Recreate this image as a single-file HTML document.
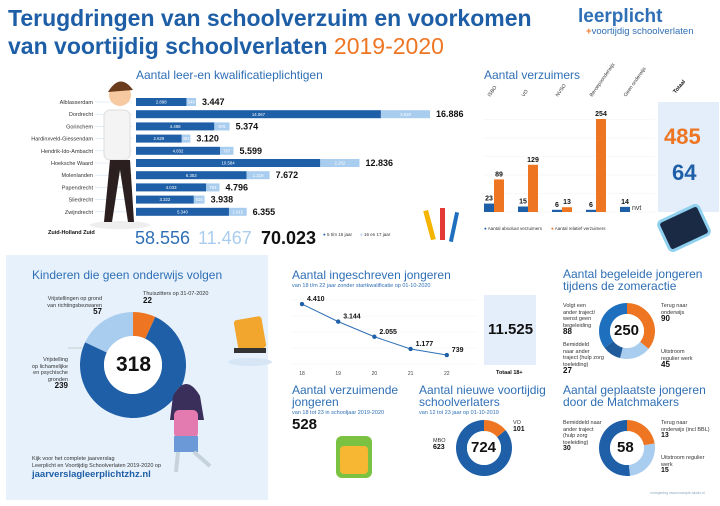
<!DOCTYPE html>
<html><head><meta charset="utf-8">
<style>
body{margin:0;width:720px;height:506px;background:#fff;font-family:"Liberation Sans",sans-serif;position:relative;overflow:hidden}
.a{position:absolute;white-space:nowrap}
.h{color:#2f6fb5;font-size:12px}
.sub{color:#2f6fb5;font-size:5.5px}
.lbl{font-size:5.5px;color:#333;line-height:6.5px}
.b{font-weight:bold;color:#111}
svg{position:absolute;left:0;top:0}
</style></head><body>
<div class="a" style="left:8px;top:4px;font-size:23px;font-weight:bold;color:#1d5ea6;line-height:28px">Terugdringen van schoolverzuim en voorkomen<br>van voortijdig schoolverlaten <span style="color:#ee7623;font-weight:normal">2019-2020</span></div>
<div class="a" style="left:578px;top:6px;font-size:19px;font-weight:bold;color:#2f6fb5">leerplicht</div>
<div class="a" style="left:586px;top:26px;font-size:9.5px;color:#2f6fb5"><span style="color:#ee7623;font-weight:bold">+</span>voortijdig schoolverlaten</div>

<div class="a" style="left:6px;top:255px;width:262px;height:245px;background:#e6f1fb"></div>
<div class="a" style="left:658px;top:102px;width:61px;height:110px;background:#e3eefa"></div>
<div class="a" style="left:484px;top:295px;width:52px;height:70px;background:#e3eefa"></div>

<svg id="s" width="720" height="506"></svg>

<div class="a h" style="left:136px;top:68px">Aantal leer-en kwalificatieplichtigen</div>
<div class="a lbl b" style="left:48px;top:230px">Zuid-Holland Zuid</div>
<div class="a" style="left:135px;top:228px;font-size:18px;color:#2f6fb5">58.556</div>
<div class="a" style="left:198px;top:228px;font-size:18px;color:#a9cdee">11.467</div>
<div class="a" style="left:261px;top:228px;font-size:18px;font-weight:bold;color:#111">70.023</div>
<div class="a lbl" style="left:323px;top:232px;font-size:4.5px"><span style="color:#1f5fa8">●</span> 5 t/m 15 jaar</div>
<div class="a lbl" style="left:360px;top:232px;font-size:4.5px"><span style="color:#a9cdee">●</span> 16 en 17 jaar</div>

<div class="a h" style="left:484px;top:68px">Aantal verzuimers</div>
<div class="a lbl" style="left:484px;top:226px;font-size:4.5px"><span style="color:#1f5fa8">●</span> Aantal absoluut verzuimers</div>
<div class="a lbl" style="left:551px;top:226px;font-size:4.5px"><span style="color:#ee7623">●</span> Aantal relatief verzuimers</div>
<div class="a" style="left:664px;top:124px;font-size:22px;font-weight:bold;color:#ee7623">485</div>
<div class="a" style="left:672px;top:160px;font-size:22px;font-weight:bold;color:#1f5fa8">64</div>
<div class="a lbl b" style="left:672px;top:84px;transform:rotate(-50deg)">Totaal</div>

<div class="a h" style="left:32px;top:268px">Kinderen die geen onderwijs volgen</div>
<div class="a lbl" style="left:143px;top:291px">Thuiszitters op 31-07-2020<br><b class="b" style="font-size:8px">22</b></div>
<div class="a lbl" style="left:30px;top:296px;text-align:right;width:72px">Vrijstellingen op grond<br>van richtingsbezwaren<br><b class="b" style="font-size:8px">57</b></div>
<div class="a lbl" style="left:18px;top:357px;text-align:right;width:50px">Vrijstelling<br>op lichamelijke<br>en psychische<br>gronden<br><b class="b" style="font-size:8px">239</b></div>
<div class="a" style="left:116px;top:353px;font-size:21px;font-weight:bold;color:#111">318</div>
<div class="a lbl" style="left:32px;top:456px">Kijk voor het complete jaarverslag<br>Leerplicht en Voortijdig Schoolverlaten 2019-2020 op</div>
<div class="a" style="left:32px;top:469px;font-size:9.5px;font-weight:bold;color:#1f5fa8">jaarverslagleerplichtzhz.nl</div>

<div class="a h" style="left:292px;top:268px">Aantal ingeschreven jongeren</div>
<div class="a sub" style="left:292px;top:283px">van 18 t/m 22 jaar zonder startkwalificatie op 01-10-2020</div>
<div class="a" style="left:488px;top:321px;font-size:15px;font-weight:bold;color:#111">11.525</div>
<div class="a lbl b" style="left:496px;top:370px">Totaal 18+</div>

<div class="a h" style="left:563px;top:268px;line-height:12px">Aantal begeleide jongeren<br>tijdens de zomeractie</div>
<div class="a lbl" style="left:563px;top:303px">Volgt een<br>ander traject/<br>wenst geen<br>begeleiding<br><b class="b" style="font-size:8px">88</b></div>
<div class="a lbl" style="left:563px;top:342px">Bemiddeld<br>naar ander<br>traject (hulp zorg<br>toeleiding)<br><b class="b" style="font-size:8px">27</b></div>
<div class="a lbl" style="left:661px;top:303px">Terug naar<br>onderwijs<br><b class="b" style="font-size:8px">90</b></div>
<div class="a lbl" style="left:661px;top:349px">Uitstroom<br>regulier werk<br><b class="b" style="font-size:8px">45</b></div>
<div class="a" style="left:614px;top:322px;font-size:15px;font-weight:bold;color:#111">250</div>

<div class="a h" style="left:292px;top:384px;line-height:12px">Aantal verzuimende<br>jongeren</div>
<div class="a sub" style="left:292px;top:410px">van 18 tot 23 in schooljaar 2019-2020</div>
<div class="a" style="left:292px;top:416px;font-size:15px;font-weight:bold;color:#111">528</div>

<div class="a h" style="left:419px;top:384px;line-height:12px">Aantal nieuwe voortijdig<br>schoolverlaters</div>
<div class="a sub" style="left:419px;top:410px">van 12 tot 23 jaar op 01-10-2019</div>
<div class="a lbl" style="left:513px;top:420px">VO<br><b class="b" style="font-size:7px">101</b></div>
<div class="a lbl" style="left:433px;top:438px">MBO<br><b class="b" style="font-size:7px">623</b></div>
<div class="a" style="left:471px;top:439px;font-size:15px;font-weight:bold;color:#111">724</div>

<div class="a h" style="left:563px;top:384px;line-height:12px">Aantal geplaatste jongeren<br>door de Matchmakers</div>
<div class="a lbl" style="left:563px;top:420px">Bemiddeld naar<br>ander traject<br>(hulp zorg<br>toeleiding)<br><b class="b" style="font-size:7px">30</b></div>
<div class="a lbl" style="left:661px;top:420px">Terug naar<br>onderwijs (incl BBL)<br><b class="b" style="font-size:7px">13</b></div>
<div class="a lbl" style="left:661px;top:455px">Uitstroom regulier<br>werk<br><b class="b" style="font-size:7px">15</b></div>
<div class="a" style="left:617px;top:439px;font-size:15px;font-weight:bold;color:#111">58</div>
<div class="a" style="left:650px;top:491px;font-size:3.5px;color:#8ab">vormgeving www.example-studio.nl</div>

<script>
const gemeenten=["Alblasserdam","Dordrecht","Gorinchem","Hardinxveld-Giessendam","Hendrik-Ido-Ambacht","Hoeksche Waard","Molenlanden","Papendrecht","Sliedrecht","Zwijndrecht"];
const jong=[2898,14067,4498,2629,4832,10584,6353,4033,3322,5340];
const oud=[549,2819,876,491,767,2252,1319,763,616,1015];
const totalen=["3.447","16.886","5.374","3.120","5.599","12.836","7.672","4.796","3.938","6.355"];
const verzCats=["ISBO","VO","NVSO","Beroepsonderwijs","Geen onderwijs"];
const verzAbs=[23,15,6,6,14];
const verzRel=[89,129,13,254,null];
const lineYears=["18","19","20","21","22"];
const lineVals=[4410,3144,2055,1177,739];
const lineLabels=["4.410","3.144","2.055","1.177","739"];
const donut1=[22,239,57];
const donut2=[90,45,27,88];
const donut3=[101,623];
const donut4=[13,15,30];

const s=document.getElementById('s');const NS='http://www.w3.org/2000/svg';
function el(t,a,p){const e=document.createElementNS(NS,t);for(const k in a)e.setAttribute(k,a[k]);(p||s).appendChild(e);return e;}
function nm(e,n){return e;}
function fmt(v){return v.toLocaleString('de-DE');}
const DB='#1f5fa8',LB='#a9cdee',OR='#ee7623';

const bx=136,bsc=294/16886;
gemeenten.forEach((g,i)=>{
 const y=102+i*12.2;
 let t=el('text',{x:93,y:y+2,'text-anchor':'end','font-size':5.5,fill:'#333'});t.textContent=g;nm(t,'gemeente-label');
 el('line',{x1:95,x2:132,y1:y,y2:y,stroke:'#cfe0f0','stroke-width':0.6});
 const w1=jong[i]*bsc,w2=oud[i]*bsc;
 let r=el('rect',{x:bx,y:y-4,width:w1,height:8,fill:DB});nm(r,'bar-jong');
 let r2=el('rect',{x:bx+w1,y:y-4,width:w2,height:8,fill:LB});nm(r2,'bar-oud');
 t=el('text',{x:bx+w1/2,y:y+1.6,'text-anchor':'middle','font-size':4.3,fill:'#fff'});t.textContent=fmt(jong[i]);nm(t,'bar-value');
 t=el('text',{x:bx+w1+w2/2,y:y+1.6,'text-anchor':'middle','font-size':4.3,fill:'#fff'});t.textContent=fmt(oud[i]);nm(t,'bar-value');
 t=el('text',{x:bx+w1+w2+6,y:y+3,'font-size':9,'font-weight':'bold',fill:'#111'});t.textContent=totalen[i];nm(t,'bar-total');
});

const vb=212,vsc=93/254;
for(let k=0;k<6;k++)el('line',{x1:484,x2:655,y1:vb-k*18.5,y2:vb-k*18.5,stroke:'#eef2f6','stroke-width':0.6});
verzCats.forEach((c,i)=>{
 const x=484+i*34;
 let t=el('text',{x:x+6,y:97,'font-size':5,fill:'#333',transform:`rotate(-55 ${x+6} 97)`});t.textContent=c;nm(t,'verzuim-category');
 let h=verzAbs[i]*vsc;
 let r=el('rect',{x:x,y:vb-h,width:10,height:h,fill:DB});nm(r,'bar-absoluut');
 t=el('text',{x:x+5,y:vb-h-3,'text-anchor':'middle','font-size':7,'font-weight':'bold',fill:'#111'});t.textContent=verzAbs[i];nm(t,'bar-value');
 if(verzRel[i]!=null){h=verzRel[i]*vsc;
  r=el('rect',{x:x+10,y:vb-h,width:10,height:h,fill:OR});nm(r,'bar-relatief');
  t=el('text',{x:x+15,y:vb-h-3,'text-anchor':'middle','font-size':7,'font-weight':'bold',fill:'#111'});t.textContent=verzRel[i];nm(t,'bar-value');
 }else{t=el('text',{x:x+12,y:vb-2,'font-size':7,fill:'#333'});t.textContent='nvt';nm(t,'bar-nvt');}
});

const lx=i=>302+i*36.2,ly=v=>365.3-v*0.01389;
for(let k=0;k<5;k++)el('line',{x1:290,x2:478,y1:300+k*16,y2:300+k*16,stroke:'#f0f3f6','stroke-width':0.6});
let pts=lineVals.map((v,i)=>lx(i)+','+ly(v)).join(' ');
nm(el('polyline',{points:pts,fill:'none',stroke:'#2f6fb5','stroke-width':1}),'line-series');
lineVals.forEach((v,i)=>{
 nm(el('circle',{cx:lx(i),cy:ly(v),r:2.2,fill:'#1f5fa8'}),'line-point');
 let t=el('text',{x:lx(i)+5,y:ly(v)-3,'font-size':7,'font-weight':'bold',fill:'#111'});t.textContent=lineLabels[i];nm(t,'point-label');
 t=el('text',{x:lx(i),y:375,'text-anchor':'middle','font-size':5,fill:'#444'});t.textContent=lineYears[i];nm(t,'x-tick');
});

function donut(cx,cy,R,r,vals,cols,name){
 const tot=vals.reduce((a,b)=>a+b,0);let a0=-Math.PI/2;
 vals.forEach((v,i)=>{const a1=a0+v/tot*2*Math.PI;const lg=(a1-a0)>Math.PI?1:0;
  const p=(rr,a)=>[cx+rr*Math.cos(a),cy+rr*Math.sin(a)];
  const [x1,y1]=p(R,a0),[x2,y2]=p(R,a1),[x3,y3]=p(r,a1),[x4,y4]=p(r,a0);
  nm(el('path',{d:`M${x1} ${y1}A${R} ${R} 0 ${lg} 1 ${x2} ${y2}L${x3} ${y3}A${r} ${r} 0 ${lg} 0 ${x4} ${y4}Z`,fill:cols[i]}),name+'-slice');
  a0=a1;});
 nm(el('circle',{cx,cy,r:r,fill:'#fff'}),name+'-hole');
}
donut(133,365,53,29,donut1,[OR,DB,LB],'donut-kinderen');
el('line',{x1:68,x2:82,y1:348,y2:348,stroke:'#aaa','stroke-width':0.5});
donut(627,331,28,17,donut2,[OR,LB,'#1f5a9a','#1e6fbd'],'donut-begeleid');
donut(484,448,28,17,donut3,[OR,DB],'donut-vsv');
donut(627,448,28,17,donut4,[OR,LB,DB],'donut-match');

const g=el('g',{});nm(g,'illustrations');
el('ellipse',{cx:120,cy:225,rx:30,ry:4,fill:'#eee'},g);
el('rect',{x:104,y:110,width:26,height:50,rx:6,fill:'#f4f4f4',stroke:'#ddd'},g);
el('circle',{cx:120,cy:95,r:11,fill:'#f6c9a0'},g);
el('path',{d:'M108 92 Q120 72 133 90 Z',fill:'#6b3b1e'},g);
el('path',{d:'M110 160 L104 222 L112 222 L120 170 L128 222 L134 222 L130 160 Z',fill:'#2b1f1f'},g);
el('rect',{x:236,y:318,width:28,height:32,rx:3,fill:'#f2a62e',transform:'rotate(-10 250 334)'},g);
el('rect',{x:234,y:348,width:32,height:5,fill:'#333'},g);
el('ellipse',{cx:250,cy:362,rx:22,ry:4,fill:'#d6e6f5'},g);
el('circle',{cx:186,cy:396,r:11,fill:'#f6c9a0'},g);
el('path',{d:'M173 396 Q186 372 200 396 L204 420 L170 420Z',fill:'#3a2e5a'},g);
el('rect',{x:174,y:410,width:24,height:28,rx:5,fill:'#e37bb0'},g);
el('rect',{x:174,y:436,width:24,height:16,fill:'#6b98d6'},g);
el('path',{d:'M178 452 L176 472 M194 452 L210 466',stroke:'#c7d3dc','stroke-width':4,fill:'none'},g);
el('rect',{x:427,y:210,width:5,height:30,fill:'#f4b400',transform:'rotate(-15 430 225)'},g);
el('rect',{x:440,y:208,width:5,height:32,fill:'#e53935'},g);
el('rect',{x:452,y:212,width:4,height:30,fill:'#1f6fbf',transform:'rotate(12 454 227)'},g);
el('rect',{x:662,y:212,width:44,height:32,rx:4,fill:'#1b2a44',stroke:'#8fd0ee','stroke-width':3,transform:'rotate(-25 684 228)'},g);
el('rect',{x:336,y:436,width:36,height:42,rx:6,fill:'#7cc242'},g);
el('rect',{x:340,y:446,width:28,height:28,rx:4,fill:'#f7b733'},g);
</script>
</body></html>
